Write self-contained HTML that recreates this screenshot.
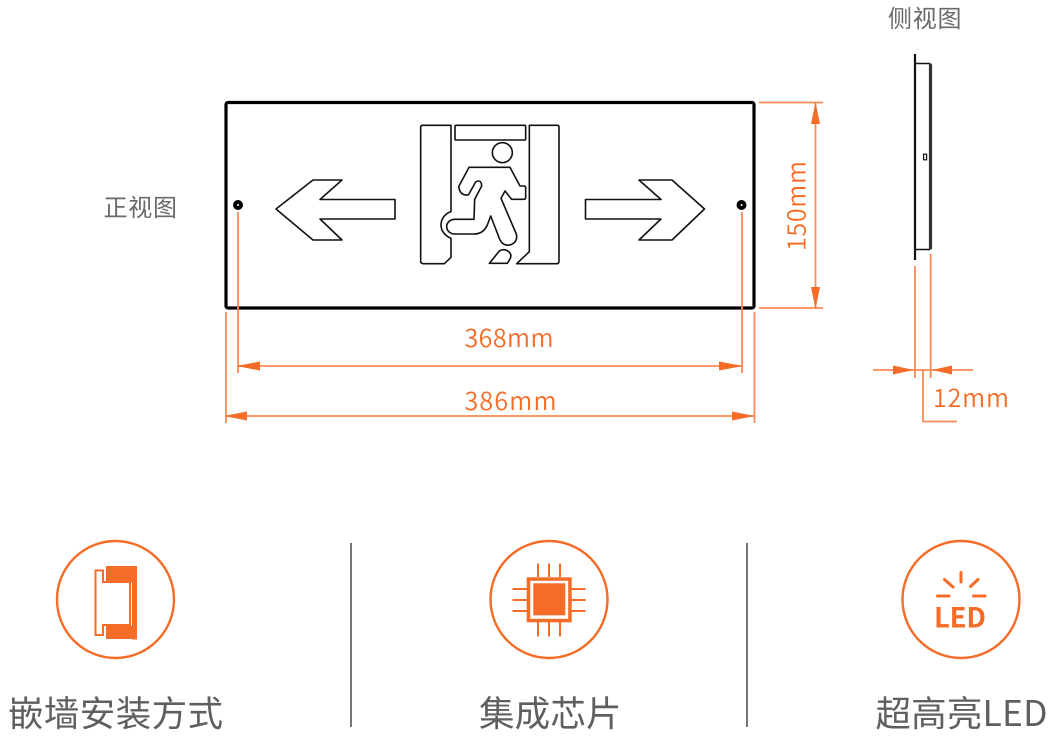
<!DOCTYPE html>
<html>
<head>
<meta charset="utf-8">
<style>
html,body{margin:0;padding:0;background:#fff;width:1054px;height:741px;overflow:hidden}
svg{display:block}
text{font-family:"Noto Sans CJK SC","Liberation Sans",sans-serif}
.o{stroke:#f98a52;stroke-width:1.8;fill:none}
.a{fill:#f56c27;stroke:none}
.dim{fill:#f56c27;font-size:25px;font-weight:350}
.gray{fill:#5f5f5f;font-size:35.5px;font-weight:400}
.lab{fill:#6a6a6a;font-size:24px;font-weight:400}
</style>
</head>
<body>
<svg width="1054" height="741" viewBox="0 0 1054 741" xmlns="http://www.w3.org/2000/svg">
<!-- panel -->
<rect x="226" y="102.5" width="528" height="205.5" rx="2" fill="#fff" stroke="#000" stroke-width="3.2"/>
<circle cx="238" cy="205" r="5" fill="#000"/><circle cx="238" cy="205" r="1" fill="#fff"/>
<circle cx="741.5" cy="205" r="5" fill="#000"/><circle cx="741.5" cy="205" r="1" fill="#fff"/>

<!-- arrows -->
<g fill="none" stroke="#111" stroke-width="1.6" stroke-linejoin="round">
<path d="M276 209 L313 180 H342 L320 199.5 H395 V219 H320 L342 240 H313 Z"/>
<path d="M704.5 209 L672 180 H639 L661 199.5 H585.5 V219 H661 L639 240 H672 Z"/>
</g>

<!-- running man -->
<g transform="translate(400 110) scale(.33333)" fill="none" stroke="#111" stroke-width="4.8" stroke-linejoin="round">
<path d="M68 46 H153 V305 C132 312 123 330 123 345 C123 362 135 378 153 385 V442 L133 461 H70 Q62 461 62 453 V52 Q62 46 68 46 Z"/>
<rect x="165" y="46" width="212" height="44" rx="3"/>
<path d="M388 46 H472 Q477 46 477 52 V454 Q477 461 470 461 H350 L388 425 Z"/>
<circle cx="307" cy="128" r="30"/>
<path d="M207 172 H330 L360 228 H372 Q377 228 377 233 V263 Q377 268 372 268 H335 L315 243 L303 265 L349 372 Q354 395 335 403 Q312 412 300 390 L272 318 L262 345 Q250 372 222 372 H165 C150 372 140 362 140 350 C140 338 150 328 165 328 H222 L224 268 L245 228 Q245 213 235 213 Q226 213 222 225 L205 255 Q180 258 176 230 Z"/>
<path d="M268 460 L298 423 Q310 416 322 422 Q338 432 330 447 L322 460 Z"/>
</g>

<!-- front dimensions -->
<g class="o">
<path d="M238 212 V373"/>
<path d="M742 212 V373"/>
<path d="M226 312 V423"/>
<path d="M754.5 312 V423"/>
<path d="M238 366 H742"/>
<path d="M226 416 H754"/>
<path d="M759 102.5 H823"/>
<path d="M759 308 H823"/>
<path d="M815.5 103 V308"/>
</g>
<path class="a" d="M236 366 L260 361.5 V370.5 Z"/>
<path class="a" d="M743 366 L719 361.5 V370.5 Z"/>
<path class="a" d="M224 416 L247 411.5 V420.5 Z"/>
<path class="a" d="M755 416 L732 411.5 V420.5 Z"/>
<path class="a" d="M815.5 102 L811 124 H820 Z"/>
<path class="a" d="M815.5 309 L811 287 H820 Z"/>

<text class="dim" x="464.5" y="347" textLength="89" lengthAdjust="spacing">368mm</text>
<text class="dim" x="464.5" y="410" textLength="92" lengthAdjust="spacing">386mm</text>
<text class="dim" transform="translate(805.5 251) rotate(-90)" x="0" y="0" textLength="90" lengthAdjust="spacing">150mm</text>

<text class="lab" x="103.5" y="216" textLength="73.5">正视图</text>
<text class="lab" x="888" y="27" textLength="73.5">侧视图</text>

<!-- side view -->
<path d="M915 54 V260" stroke="#111" stroke-width="2.2" fill="none"/>
<path d="M915 63.5 H930 M915 249.5 H930" stroke="#111" stroke-width="1.5" fill="none"/>
<path d="M930.5 65 V248" stroke="#333" stroke-width="3.2" fill="none" stroke-linecap="round"/>
<rect x="923.6" y="154.2" width="3" height="5.6" fill="#fff" stroke="#111" stroke-width="1.2"/>

<g class="o">
<path d="M915 266 V378"/>
<path d="M930.7 254 V378"/>
<path d="M873 370 H973"/>
<path d="M923 370 V421.5 H957"/>
</g>
<path class="a" d="M914 370 L893 365.5 V374.5 Z"/>
<path class="a" d="M932 370 L952 365.5 V374.5 Z"/>
<text class="dim" x="933" y="407" textLength="76" lengthAdjust="spacing">12mm</text>

<!-- circles -->
<g fill="none" stroke="#f56c27" stroke-width="2.4">
<circle cx="115.5" cy="599.5" r="58.5"/>
<circle cx="549" cy="599.5" r="58.5"/>
<circle cx="961" cy="599.5" r="58.5"/>
</g>

<!-- icon 1 -->
<path class="a" d="M106 566 H137 V639.5 H132 V639 H106 Z"/>
<path d="M102 566 H106 V582 H132 V626 H106 V639.5 H102 Z" fill="#fff"/>
<path d="M95.5 570.5 H103 V582 H130 V625 H103 V635 H95.5 Z" fill="#fff" stroke="#f56c27" stroke-width="2"/>

<!-- icon 2 -->
<rect x="526.7" y="577.3" width="45" height="45" fill="#f56c27"/>
<rect x="530.2" y="580.8" width="38" height="38" fill="#fff"/>
<rect x="533.3" y="583.3" width="32" height="32" fill="#f56c27"/>
<path d="M538 563.5 V577 M549 563.5 V577 M560 563.5 V577 M538 622 V636.5 M549 622 V636.5 M560 622 V636.5 M512.5 589 H527 M512.5 600 H527 M512.5 611 H527 M571.5 589 H585.5 M571.5 600 H585.5 M571.5 611 H585.5" stroke="#f56c27" stroke-width="2" fill="none"/>

<!-- icon 3 -->
<path d="M961 572.5 V582 M944.5 579.5 L953 587 M978 579.5 L970.5 586.5 M937.5 596 H949 M973.5 596 H985" stroke="#f56c27" stroke-width="3" stroke-linecap="round" fill="none"/>
<text x="934" y="627.7" fill="#f56c27" font-size="27.5" font-weight="700" textLength="52" lengthAdjust="spacing">LED</text>

<!-- dividers -->
<path d="M351 543 V727 M747 543 V727" stroke="#555" stroke-width="1.6" fill="none"/>

<!-- labels -->
<text class="gray" x="8" y="726" textLength="215">嵌墙安装方式</text>
<text class="gray" x="479" y="726" textLength="142.5">集成芯片</text>
<text class="gray" x="875.5" y="726" textLength="172">超高亮LED</text>
</svg>
</body>
</html>
